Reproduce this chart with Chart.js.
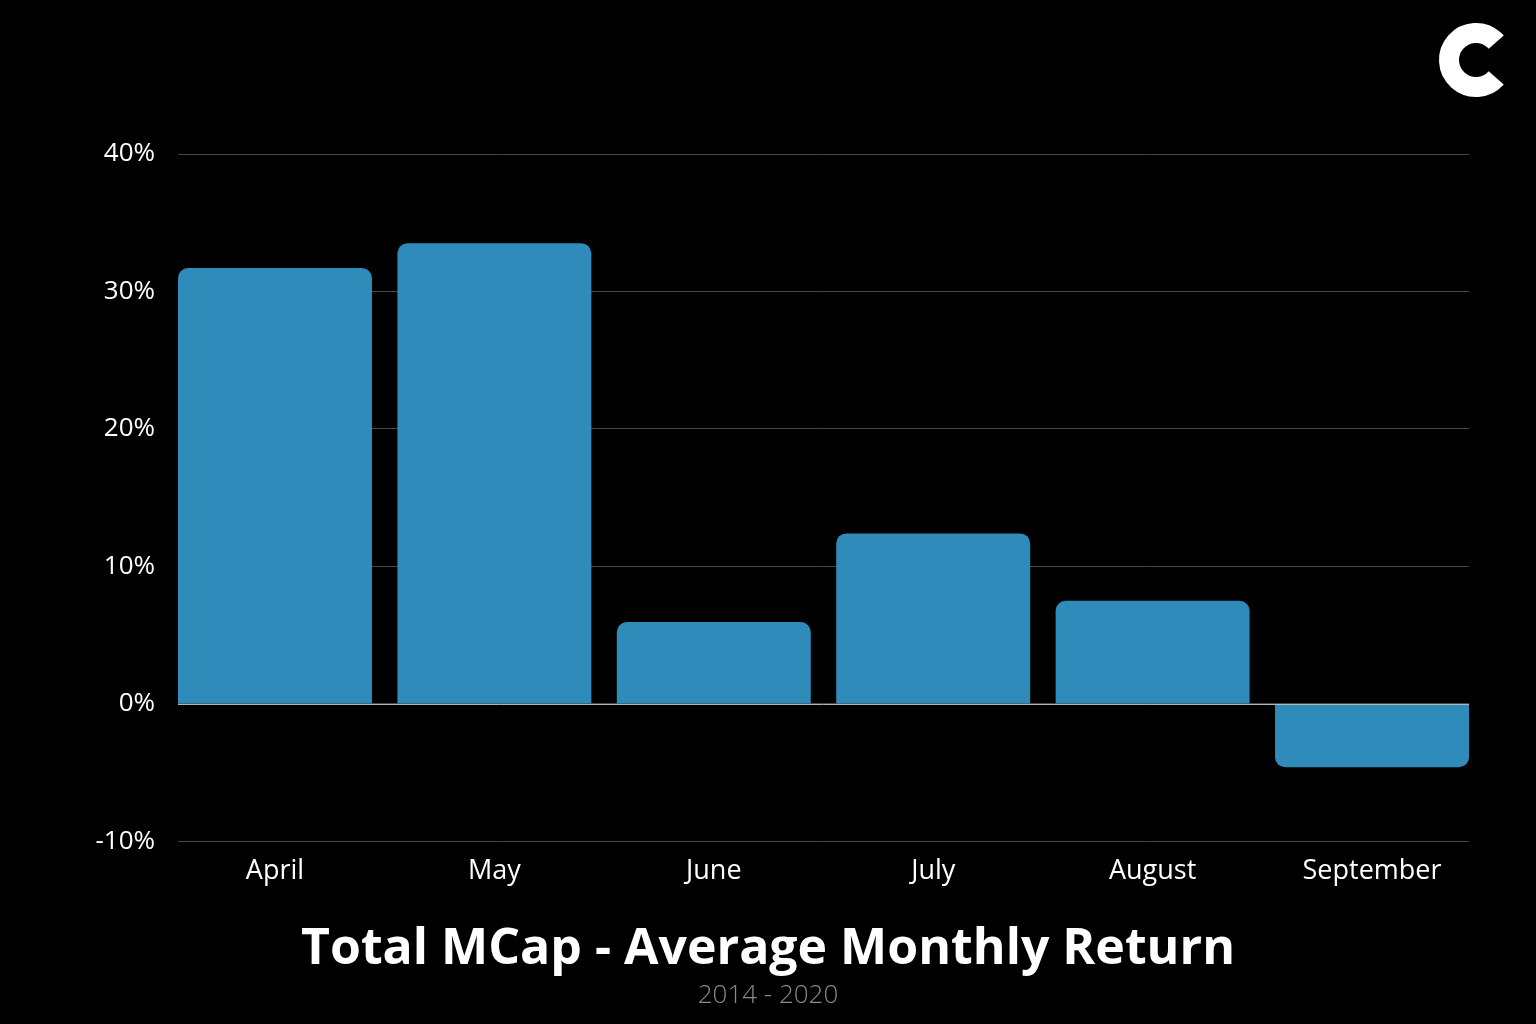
<!DOCTYPE html>
<html>
<head>
<meta charset="utf-8">
<script src="https://cdn.jsdelivr.net/npm/chart.js@4.4.0/dist/chart.umd.min.js"></script>
<style>
  html, body { margin: 0; padding: 0; background: #000; }
  #wrap { width: 1536px; height: 1024px; }
</style>
</head>
<body>
<div id="wrap"><canvas id="grafico"></canvas></div>
<script>
// Datos
const meses = ["April", "May", "June", "July", "August", "September"];
const retornos = [31.7, 33.5, 5.95, 12.4, 7.5, -4.6];
const ticksY = [-10, 0, 10, 20, 30, 40];

const fuente = "'Open Sans', 'Noto Sans', sans-serif";

// linea del cero por encima de las barras + logo
const extras = {
    id: "extras",
    afterDatasetsDraw(chart) {
        const { ctx, chartArea, scales } = chart;
        const y0 = Math.round(scales.y.getPixelForValue(0)) + 0.5;
        ctx.save();
        ctx.strokeStyle = "#b5b5b5";
        ctx.lineWidth = 1;
        ctx.beginPath();
        ctx.moveTo(chartArea.left, y0);
        ctx.lineTo(chartArea.right, y0);
        ctx.stroke();

        // logo "C"
        ctx.strokeStyle = "#fff";
        ctx.lineWidth = 20;
        ctx.beginPath();
        ctx.arc(1476, 60, 27, 0.23 * Math.PI, 1.77 * Math.PI);
        ctx.stroke();
        ctx.restore();
    }
};

new Chart(document.getElementById("grafico"), {
    type: "bar",
    data: {
        datasets: [{
            label: "Average Monthly Return",
            data: retornos.map((v, i) => ({ x: i, y: v })),
            backgroundColor: "#2e8bba",
            borderRadius: 10,
            barPercentage: 0.884,
            categoryPercentage: 1,
            yAxisID: "y"
        }]
    },
    options: {
        responsive: true,
        maintainAspectRatio: false,
        animation: false,
        layout: { padding: { left: 0, right: 0, top: 154, bottom: 13 } },
        plugins: {
            legend: { display: false },
            tooltip: { enabled: false },
            title: {
                display: true,
                position: "bottom",
                weight: 1000,
                text: "Total MCap - Average Monthly Return",
                color: "#fff",
                font: { family: fuente, size: 50, weight: "bold" },
                padding: { top: 18, bottom: 0 }
            },
            subtitle: {
                display: true,
                position: "bottom",
                weight: 1500,
                text: "2014 - 2020",
                color: "#8a8a8a",
                font: { family: fuente, size: 26, weight: "300" },
                padding: { top: 0, bottom: 0 }
            }
        },
        scales: {
            x: {
                type: "linear",
                offset: false,
                min: -0.442,
                max: 5.442,
                grid: { display: false, drawTicks: false },
                border: { display: false },
                ticks: {
                    stepSize: 1,
                    includeBounds: false,
                    autoSkip: false,
                    maxRotation: 0,
                    padding: 14,
                    color: "#fff",
                    font: { family: fuente, size: 27 },
                    callback: (v) => meses[v] ?? ""
                }
            },
            y: {
                min: ticksY[0],
                max: ticksY[ticksY.length - 1],
                afterFit(scale) { scale.width = 178; },
                grid: { color: "#474747", drawTicks: false },
                border: { display: false },
                ticks: {
                    stepSize: 10,
                    padding: 23,
                    color: "#fff",
                    font: { family: fuente, size: 26 },
                    callback: (v) => v + "%"
                }
            },
            // eje vacio para reservar el margen derecho
            derecha: {
                position: "right",
                min: ticksY[0],
                max: ticksY[ticksY.length - 1],
                afterFit(scale) { scale.width = 67; },
                grid: { drawOnChartArea: false, drawTicks: false },
                border: { display: false },
                ticks: { display: false }
            }
        }
    },
    plugins: [extras]
});
</script>
</body>
</html>
